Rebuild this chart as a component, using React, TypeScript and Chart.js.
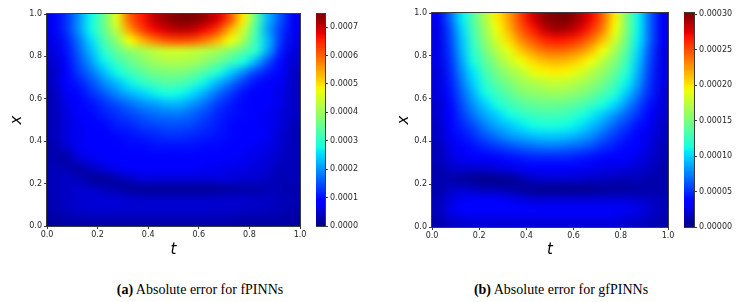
import React, { useEffect, useRef } from "react";
import { Chart, registerables } from "chart.js";

Chart.register(...registerables);

// Cell centres of the sampled error field (t across, x from top row to bottom row)
const T_CENTERS = [0.025, 0.075, 0.125, 0.175, 0.225, 0.275, 0.325, 0.375, 0.425, 0.475, 0.525, 0.575, 0.625, 0.675, 0.725, 0.775, 0.825, 0.875, 0.925, 0.975];
const X_CENTERS = [0.975, 0.925, 0.875, 0.825, 0.775, 0.725, 0.675, 0.625, 0.575, 0.525, 0.475, 0.425, 0.375, 0.325, 0.275, 0.225, 0.175, 0.125, 0.075, 0.025];

// Error values are stored in units of 1e-5
const VALUE_UNIT = 1e-5;

const ERROR_FPINNS = [
  [7.5, 12.7, 20.1, 27.6, 35.8, 46.3, 59.7, 65.6, 70.1, 73.1, 74.6, 74.6, 72.4, 68.6, 61.2, 49.2, 35.0, 22.4, 14.9, 7.5],
  [7.5, 12.7, 20.1, 27.6, 35.1, 43.3, 55.2, 62.7, 67.1, 69.4, 70.9, 70.1, 67.1, 62.7, 53.7, 44.8, 32.5, 20.9, 13.4, 7.5],
  [6.7, 11.2, 17.9, 25.4, 32.8, 38.8, 47.7, 53.7, 58.2, 61.2, 61.9, 61.2, 58.2, 53.7, 47.7, 41.0, 31.3, 22.4, 12.7, 6.7],
  [6.0, 10.4, 16.4, 23.1, 29.8, 35.1, 38.8, 41.0, 43.3, 44.8, 44.8, 44.0, 42.5, 41.0, 38.0, 34.3, 29.8, 20.9, 11.2, 6.0],
  [5.2, 9.7, 14.9, 20.9, 26.9, 31.3, 35.1, 38.0, 40.3, 41.8, 41.8, 41.0, 38.8, 35.8, 32.1, 28.3, 22.4, 14.9, 9.7, 5.2],
  [4.5, 9.0, 13.4, 17.9, 23.1, 27.6, 31.3, 34.3, 36.6, 37.3, 37.3, 35.8, 32.8, 29.1, 24.6, 19.4, 14.2, 11.2, 8.2, 4.5],
  [4.5, 8.2, 11.2, 14.9, 19.4, 23.1, 26.9, 29.8, 32.1, 33.6, 32.8, 30.6, 26.9, 22.4, 17.9, 13.4, 10.4, 9.0, 7.5, 4.5],
  [3.7, 7.5, 9.7, 12.7, 15.7, 19.4, 22.4, 24.6, 26.9, 28.3, 27.6, 25.4, 21.6, 17.2, 13.4, 10.4, 9.0, 8.2, 6.7, 4.5],
  [3.7, 6.7, 9.0, 10.4, 12.7, 14.9, 17.2, 19.4, 20.9, 22.4, 22.4, 20.1, 17.2, 13.4, 11.2, 9.7, 9.0, 8.2, 6.7, 4.5],
  [3.7, 6.0, 8.2, 9.7, 11.2, 12.7, 14.2, 15.7, 17.2, 17.9, 17.9, 16.4, 14.2, 11.9, 10.4, 9.7, 9.0, 7.5, 6.0, 4.5],
  [3.7, 6.0, 7.5, 9.0, 9.7, 11.2, 11.9, 13.4, 14.2, 14.9, 14.9, 14.2, 12.7, 11.2, 9.7, 9.0, 8.2, 7.5, 6.0, 3.7],
  [3.7, 6.0, 7.5, 8.2, 9.0, 9.7, 10.4, 11.2, 11.9, 12.7, 12.7, 11.9, 11.2, 10.4, 9.7, 9.0, 8.2, 7.5, 5.2, 3.7],
  [3.0, 5.2, 7.5, 8.2, 9.0, 9.0, 9.7, 9.7, 10.4, 10.4, 10.4, 10.4, 9.7, 9.7, 9.0, 8.2, 7.5, 6.7, 5.2, 3.7],
  [3.0, 2.6, 6.0, 7.5, 8.2, 9.0, 9.0, 9.0, 9.0, 9.0, 9.0, 9.0, 9.0, 8.2, 8.2, 7.5, 6.7, 6.0, 4.5, 3.7],
  [3.7, 3.4, 2.6, 4.5, 6.0, 7.5, 8.2, 8.2, 8.2, 8.2, 8.2, 8.2, 7.5, 7.5, 6.7, 6.7, 6.0, 5.2, 3.7, 3.7],
  [3.7, 4.5, 3.7, 2.0, 2.0, 3.0, 4.5, 6.0, 6.0, 6.0, 6.0, 6.0, 6.0, 6.0, 6.0, 5.2, 5.2, 4.5, 3.4, 3.7],
  [3.7, 4.5, 5.2, 4.8, 3.7, 3.0, 2.0, 1.8, 1.8, 1.8, 1.8, 1.8, 1.8, 2.0, 2.4, 2.8, 3.0, 3.4, 3.4, 3.0],
  [3.4, 4.5, 5.2, 5.6, 5.6, 5.6, 5.2, 4.8, 4.8, 4.8, 4.8, 4.8, 4.8, 4.8, 4.8, 4.8, 4.5, 4.5, 3.7, 3.4],
  [3.0, 4.1, 4.8, 5.2, 5.2, 5.2, 5.2, 5.2, 5.2, 5.2, 5.2, 5.2, 5.2, 4.8, 4.8, 4.5, 4.5, 4.1, 3.7, 3.0],
  [2.2, 2.6, 3.0, 3.0, 3.0, 3.0, 3.0, 3.0, 3.0, 3.0, 3.0, 3.0, 3.0, 3.0, 3.0, 2.6, 2.6, 2.6, 2.6, 2.2],
];

const ERROR_GFPINNS = [
  [3.0, 6.6, 10.6, 13.6, 16.9, 19.9, 22.3, 25.4, 27.8, 29.6, 30.2, 30.2, 29.0, 27.2, 24.2, 19.9, 15.1, 10.9, 6.6, 3.0],
  [2.7, 6.0, 10.0, 13.3, 16.3, 19.3, 21.7, 24.5, 26.6, 28.4, 29.3, 29.0, 27.8, 26.0, 23.3, 19.3, 15.1, 10.9, 6.6, 3.0],
  [2.7, 5.7, 9.4, 12.7, 15.7, 18.4, 20.5, 23.0, 24.8, 26.3, 26.9, 26.6, 25.7, 23.9, 21.4, 18.1, 14.5, 10.6, 6.6, 3.0],
  [2.7, 5.4, 9.1, 12.1, 14.8, 17.2, 19.0, 21.1, 22.7, 23.9, 24.2, 23.9, 23.0, 21.4, 19.3, 16.6, 13.6, 10.0, 6.0, 2.7],
  [2.7, 5.1, 8.5, 11.5, 13.9, 16.0, 17.8, 19.3, 20.5, 21.4, 21.7, 21.4, 20.5, 19.3, 17.2, 15.4, 12.7, 9.4, 5.7, 2.7],
  [2.4, 4.8, 7.9, 10.6, 13.0, 14.8, 16.3, 17.5, 19.0, 19.6, 19.9, 19.6, 18.7, 17.2, 16.0, 14.2, 11.8, 8.8, 5.4, 2.7],
  [2.4, 4.5, 7.2, 10.0, 12.1, 13.9, 15.1, 16.3, 16.9, 17.5, 17.8, 17.5, 16.9, 16.0, 14.8, 13.0, 10.9, 8.2, 5.1, 2.7],
  [2.4, 4.2, 6.6, 9.1, 11.2, 12.7, 13.9, 15.1, 15.7, 16.0, 16.3, 16.0, 15.4, 14.5, 13.3, 11.8, 9.7, 7.2, 4.8, 2.4],
  [2.1, 3.9, 6.0, 8.2, 10.0, 11.5, 12.7, 13.6, 14.2, 14.5, 14.5, 14.2, 13.6, 12.7, 11.5, 10.3, 8.2, 6.0, 4.2, 2.4],
  [2.1, 3.6, 5.4, 7.2, 8.8, 10.0, 11.2, 12.1, 12.7, 13.0, 13.0, 12.7, 11.8, 10.9, 9.7, 8.2, 6.6, 5.1, 3.6, 2.1],
  [1.8, 3.3, 4.8, 6.0, 7.6, 8.8, 9.7, 10.6, 11.2, 11.5, 11.5, 11.2, 10.6, 9.4, 8.2, 6.6, 5.4, 4.2, 3.0, 1.8],
  [1.8, 3.0, 4.2, 5.1, 6.3, 7.2, 8.2, 8.8, 9.4, 9.7, 9.7, 9.4, 8.8, 7.9, 6.6, 5.4, 4.5, 3.6, 2.7, 1.8],
  [1.5, 2.7, 3.6, 4.2, 4.8, 5.4, 6.0, 6.6, 6.9, 7.2, 7.2, 6.9, 6.6, 6.0, 5.1, 4.5, 3.9, 3.3, 2.4, 1.5],
  [1.5, 2.4, 3.0, 3.3, 3.6, 3.9, 4.2, 4.5, 4.8, 4.8, 4.8, 4.8, 4.5, 4.2, 3.9, 3.6, 3.3, 2.7, 2.1, 1.5],
  [1.2, 1.8, 2.1, 2.1, 2.1, 2.4, 2.7, 3.0, 3.3, 3.3, 3.3, 3.3, 3.0, 3.0, 2.7, 2.7, 2.4, 2.1, 1.8, 1.2],
  [1.2, 1.2, 0.9, 0.6, 0.5, 0.5, 0.6, 1.2, 1.8, 2.1, 2.1, 2.1, 2.1, 1.8, 1.8, 1.5, 1.5, 1.5, 1.2, 1.2],
  [1.2, 1.8, 2.1, 1.8, 1.5, 1.5, 1.2, 0.9, 0.6, 0.5, 0.5, 0.5, 0.5, 0.6, 0.8, 0.9, 0.9, 1.1, 1.2, 1.2],
  [1.5, 2.4, 3.0, 3.3, 3.3, 3.3, 3.0, 2.7, 2.4, 2.4, 2.4, 2.4, 2.4, 2.4, 2.4, 2.4, 2.4, 2.1, 1.8, 1.5],
  [1.5, 2.7, 3.3, 3.6, 3.6, 3.6, 3.6, 3.6, 3.6, 3.6, 3.6, 3.6, 3.6, 3.6, 3.6, 3.3, 3.0, 2.7, 2.1, 1.5],
  [1.2, 1.8, 2.1, 2.4, 2.4, 2.4, 2.4, 2.4, 2.4, 2.4, 2.4, 2.4, 2.4, 2.4, 2.4, 2.4, 2.1, 1.8, 1.5, 1.2],
];

const AXIS_TICKS = [0, 0.2, 0.4, 0.6, 0.8, 1.0];
const CBAR_TICKS_FPINNS = [0, 0.0001, 0.0002, 0.0003, 0.0004, 0.0005, 0.0006, 0.0007];
const CBAR_TICKS_GFPINNS = [0, 0.00005, 0.0001, 0.00015, 0.0002, 0.00025, 0.0003];
const VMAX_FPINNS = 0.000746;
const VMAX_GFPINNS = 0.000302;
const CAPTION_A = ["(a)", " Absolute error for fPINNs"];
const CAPTION_B = ["(b)", " Absolute error for gfPINNs"];

const TICK_FONT = { family: "'DejaVu Sans', sans-serif", size: 8 };
const TICK_COLOR = "#262626";
const TITLE_FONT = { family: "'DejaVu Sans', sans-serif", size: 15, style: "italic" as const };
const FRAME_COLOR = "#3a3a3a";

// matplotlib "jet" segment data
const JET_R: [number, number][] = [[0, 0], [0.35, 0], [0.66, 1], [0.89, 1], [1, 0.5]];
const JET_G: [number, number][] = [[0, 0], [0.125, 0], [0.375, 1], [0.64, 1], [0.91, 0], [1, 0]];
const JET_B: [number, number][] = [[0, 0.5], [0.11, 1], [0.34, 1], [0.65, 0], [1, 0]];

function channel(seg: [number, number][], f: number) {
  for (let i = 1; i < seg.length; i++) {
    if (f <= seg[i][0]) {
      const [x0, y0] = seg[i - 1];
      const [x1, y1] = seg[i];
      return y0 + ((y1 - y0) * (f - x0)) / (x1 - x0);
    }
  }
  return seg[seg.length - 1][1];
}

function jetRGB(f: number): [number, number, number] {
  const v = Math.max(0, Math.min(1, f));
  return [
    Math.round(channel(JET_R, v) * 255),
    Math.round(channel(JET_G, v) * 255),
    Math.round(channel(JET_B, v) * 255),
  ];
}

function jet(f: number): string {
  const [r, g, b] = jetRGB(f);
  return `rgb(${r},${g},${b})`;
}

function drawFrame(chart: any) {
  const { ctx, chartArea } = chart;
  ctx.save();
  ctx.strokeStyle = FRAME_COLOR;
  ctx.lineWidth = 1;
  ctx.strokeRect(
    Math.round(chartArea.left) - 0.5,
    Math.round(chartArea.top) - 0.5,
    Math.round(chartArea.right) - Math.round(chartArea.left) + 1,
    Math.round(chartArea.bottom) - Math.round(chartArea.top) + 1
  );
  ctx.restore();
}

function makeHeatmap(
  canvas: HTMLCanvasElement,
  grid: number[][],
  vmax: number,
  yAxisWidth: number,
  padTop: number,
  xAxisHeight: number
) {
  const cellW = T_CENTERS[1] - T_CENTERS[0];
  const cellH = X_CENTERS[0] - X_CENTERS[1];
  // one texel per cell, displayed with bilinear smoothing (like imshow interpolation)
  const tex = document.createElement("canvas");
  tex.width = T_CENTERS.length;
  tex.height = X_CENTERS.length;
  const tctx = tex.getContext("2d")!;
  const img = tctx.createImageData(tex.width, tex.height);
  grid.forEach((row, r) => {
    row.forEach((v, c) => {
      const [R, G, B] = jetRGB((v * VALUE_UNIT) / vmax);
      const k = (r * tex.width + c) * 4;
      img.data[k] = R;
      img.data[k + 1] = G;
      img.data[k + 2] = B;
      img.data[k + 3] = 255;
    });
  });
  tctx.putImageData(img, 0, 0);

  const heat = {
    id: "heat",
    beforeDatasetsDraw(chart: any) {
      const { ctx, chartArea } = chart;
      const xs = chart.scales.x;
      const ys = chart.scales.y;
      const left = xs.getPixelForValue(T_CENTERS[0] - cellW / 2);
      const right = xs.getPixelForValue(T_CENTERS[T_CENTERS.length - 1] + cellW / 2);
      const top = ys.getPixelForValue(X_CENTERS[0] + cellH / 2);
      const bottom = ys.getPixelForValue(X_CENTERS[X_CENTERS.length - 1] - cellH / 2);
      ctx.save();
      ctx.beginPath();
      ctx.rect(chartArea.left, chartArea.top, chartArea.right - chartArea.left, chartArea.bottom - chartArea.top);
      ctx.clip();
      ctx.imageSmoothingEnabled = true;
      ctx.imageSmoothingQuality = "high";
      ctx.drawImage(tex, 0, 0, tex.width, tex.height, left, top, right - left, bottom - top);
      ctx.restore();
    },
    afterDraw(chart: any) {
      drawFrame(chart);
    },
  };
  const points: { x: number; y: number }[] = [];
  X_CENTERS.forEach((x) => T_CENTERS.forEach((t) => points.push({ x: t, y: x })));
  return new Chart(canvas, {
    type: "scatter",
    data: { datasets: [{ data: points, pointRadius: 0, pointHoverRadius: 0 }] },
    options: {
      animation: false,
      responsive: false,
      devicePixelRatio: 1,
      events: [],
      layout: { padding: { top: padTop, right: 12, left: 0, bottom: 0 } },
      plugins: { legend: { display: false }, tooltip: { enabled: false } },
      scales: {
        x: {
          type: "linear",
          min: 0,
          max: 1,
          afterBuildTicks: (s: any) => {
            s.ticks = AXIS_TICKS.map((v) => ({ value: v }));
          },
          afterFit: (s: any) => {
            s.height = xAxisHeight;
          },
          grid: { drawOnChartArea: false, drawTicks: true, tickLength: 3, color: FRAME_COLOR, lineWidth: 1 },
          border: { display: false },
          ticks: {
            font: TICK_FONT,
            color: TICK_COLOR,
            padding: 1,
            maxRotation: 0,
            autoSkip: false,
            callback: (v: any) => Number(v).toFixed(1),
          },
          title: { display: true, text: "t", font: TITLE_FONT, color: "#000", padding: { top: 0, bottom: 1 } },
        },
        y: {
          type: "linear",
          min: 0,
          max: 1,
          afterBuildTicks: (s: any) => {
            s.ticks = AXIS_TICKS.map((v) => ({ value: v }));
          },
          afterFit: (s: any) => {
            s.width = yAxisWidth;
          },
          grid: { drawOnChartArea: false, drawTicks: true, tickLength: 3, color: FRAME_COLOR, lineWidth: 1 },
          border: { display: false },
          ticks: {
            font: TICK_FONT,
            color: TICK_COLOR,
            padding: 2,
            autoSkip: false,
            callback: (v: any) => Number(v).toFixed(1),
          },
          title: { display: true, text: "x", font: TITLE_FONT, color: "#000", padding: { top: 8, bottom: 0 } },
        },
      },
    } as any,
    plugins: [heat],
  });
}

function makeColorbar(
  canvas: HTMLCanvasElement,
  vmax: number,
  ticks: number[],
  decimals: number,
  padTop: number,
  padBottom: number,
  axisWidth: number
) {
  const bar = {
    id: "cbar",
    beforeDatasetsDraw(chart: any) {
      const { ctx, chartArea } = chart;
      const ys = chart.scales.y;
      const steps = 256;
      ctx.save();
      for (let i = 0; i < steps; i++) {
        const v0 = (vmax * i) / steps;
        const v1 = (vmax * (i + 1)) / steps;
        const yTop = ys.getPixelForValue(v1);
        const yBot = ys.getPixelForValue(v0);
        ctx.fillStyle = jet((v0 + v1) / 2 / vmax);
        ctx.fillRect(chartArea.left, Math.floor(yTop), chartArea.right - chartArea.left, Math.ceil(yBot) - Math.floor(yTop));
      }
      ctx.restore();
    },
    afterDraw(chart: any) {
      drawFrame(chart);
    },
  };
  return new Chart(canvas, {
    type: "scatter",
    data: { datasets: [{ data: [], pointRadius: 0 }] },
    options: {
      animation: false,
      responsive: false,
      devicePixelRatio: 1,
      events: [],
      layout: { padding: { top: padTop, bottom: padBottom, left: 0, right: 0 } },
      plugins: { legend: { display: false }, tooltip: { enabled: false } },
      scales: {
        x: { type: "linear", display: false, min: 0, max: 1 },
        y: {
          type: "linear",
          position: "right",
          min: 0,
          max: vmax,
          afterBuildTicks: (s: any) => {
            s.ticks = ticks.map((v) => ({ value: v }));
          },
          afterFit: (s: any) => {
            s.width = axisWidth;
          },
          grid: { drawOnChartArea: false, drawTicks: true, tickLength: 3, color: FRAME_COLOR, lineWidth: 1 },
          border: { display: false },
          ticks: {
            font: TICK_FONT,
            color: TICK_COLOR,
            padding: 2,
            autoSkip: false,
            callback: (v: any) => Number(v).toFixed(decimals),
          },
        },
      },
    } as any,
    plugins: [bar],
  });
}

export default function App() {
  const heatA = useRef<HTMLCanvasElement>(null);
  const heatB = useRef<HTMLCanvasElement>(null);
  const barA = useRef<HTMLCanvasElement>(null);
  const barB = useRef<HTMLCanvasElement>(null);

  useEffect(() => {
    const charts: Chart[] = [];
    if (heatA.current) charts.push(makeHeatmap(heatA.current, ERROR_FPINNS, VMAX_FPINNS, 47, 14, 34));
    if (heatB.current) charts.push(makeHeatmap(heatB.current, ERROR_GFPINNS, VMAX_GFPINNS, 45, 13, 33));
    if (barA.current) charts.push(makeColorbar(barA.current, VMAX_FPINNS, CBAR_TICKS_FPINNS, 4, 14, 14, 40));
    if (barB.current) charts.push(makeColorbar(barB.current, VMAX_GFPINNS, CBAR_TICKS_GFPINNS, 5, 13, 13, 45));
    return () => charts.forEach((c) => c.destroy());
  }, []);

  const abs = (left: number, top: number, width: number, height: number): React.CSSProperties => ({
    position: "absolute",
    left,
    top,
    width,
    height,
  });

  const captionStyle = (center: number): React.CSSProperties => ({
    position: "absolute",
    left: center - 150,
    width: 300,
    top: 281,
    textAlign: "center",
    fontFamily: "'Liberation Serif', 'Times New Roman', serif",
    fontSize: 14,
    lineHeight: "18px",
    color: "#000",
    whiteSpace: "nowrap",
  });

  return (
    <div style={{ position: "absolute", left: 0, top: 0, width: 745, height: 302, background: "#fff", overflow: "hidden" }}>
      <canvas ref={heatA} width={312} height={260} style={abs(0, 0, 312, 260)} />
      <canvas ref={barA} width={49} height={240} style={abs(316, 0, 49, 240)} />
      <canvas ref={heatB} width={293} height={260} style={abs(387, 0, 293, 260)} />
      <canvas ref={barB} width={55} height={240} style={abs(684, 0, 55, 240)} />
      <div style={captionStyle(200)}>
        <b>{CAPTION_A[0]}</b>
        {CAPTION_A[1]}
      </div>
      <div style={captionStyle(561)}>
        <b>{CAPTION_B[0]}</b>
        {CAPTION_B[1]}
      </div>
    </div>
  );
}
